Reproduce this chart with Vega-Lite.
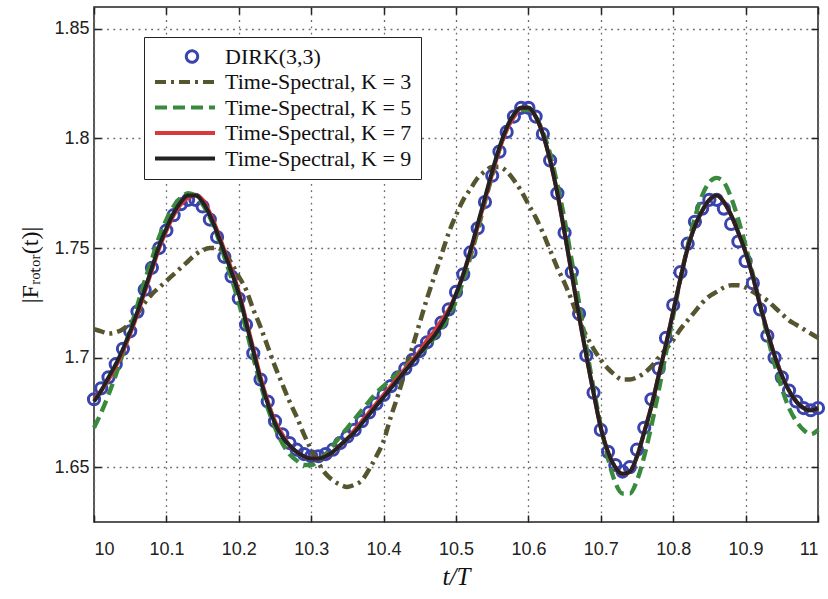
{
  "$schema": "https://vega.github.io/schema/vega-lite/v6.json",
  "width": 724,
  "height": 515,
  "autosize": "none",
  "padding": {"left": 94, "top": 7, "right": 10, "bottom": 77},
  "background": "white",
  "data": {"values": [
    {"t":10.00,"dirk":1.681,"k3":1.713,"k5":1.668,"k7":1.681,"k9":1.680},
    {"t":10.01,"dirk":1.686,"k3":1.712,"k5":1.675,"k7":1.685,"k9":1.685},
    {"t":10.02,"dirk":1.691,"k3":1.711,"k5":1.683,"k7":1.690,"k9":1.691},
    {"t":10.03,"dirk":1.697,"k3":1.7115,"k5":1.692,"k7":1.696,"k9":1.697},
    {"t":10.04,"dirk":1.704,"k3":1.713,"k5":1.702,"k7":1.703,"k9":1.704},
    {"t":10.05,"dirk":1.712,"k3":1.716,"k5":1.713,"k7":1.711,"k9":1.712},
    {"t":10.06,"dirk":1.721,"k3":1.720,"k5":1.724,"k7":1.720,"k9":1.721},
    {"t":10.07,"dirk":1.731,"k3":1.725,"k5":1.735,"k7":1.730,"k9":1.731},
    {"t":10.08,"dirk":1.741,"k3":1.729,"k5":1.745,"k7":1.740,"k9":1.741},
    {"t":10.09,"dirk":1.750,"k3":1.732,"k5":1.755,"k7":1.750,"k9":1.751},
    {"t":10.10,"dirk":1.758,"k3":1.735,"k5":1.763,"k7":1.758,"k9":1.759},
    {"t":10.11,"dirk":1.765,"k3":1.738,"k5":1.769,"k7":1.765,"k9":1.766},
    {"t":10.12,"dirk":1.770,"k3":1.741,"k5":1.773,"k7":1.770,"k9":1.771},
    {"t":10.13,"dirk":1.772,"k3":1.744,"k5":1.775,"k7":1.773,"k9":1.774},
    {"t":10.14,"dirk":1.772,"k3":1.747,"k5":1.774,"k7":1.774,"k9":1.774},
    {"t":10.15,"dirk":1.769,"k3":1.749,"k5":1.770,"k7":1.772,"k9":1.771},
    {"t":10.16,"dirk":1.763,"k3":1.750,"k5":1.764,"k7":1.766,"k9":1.765},
    {"t":10.17,"dirk":1.755,"k3":1.750,"k5":1.756,"k7":1.758,"k9":1.757},
    {"t":10.18,"dirk":1.746,"k3":1.748,"k5":1.746,"k7":1.749,"k9":1.748},
    {"t":10.19,"dirk":1.737,"k3":1.743,"k5":1.736,"k7":1.740,"k9":1.739},
    {"t":10.20,"dirk":1.727,"k3":1.737,"k5":1.725,"k7":1.730,"k9":1.729},
    {"t":10.21,"dirk":1.715,"k3":1.731,"k5":1.713,"k7":1.717,"k9":1.716},
    {"t":10.22,"dirk":1.702,"k3":1.722,"k5":1.700,"k7":1.704,"k9":1.703},
    {"t":10.23,"dirk":1.690,"k3":1.714,"k5":1.688,"k7":1.691,"k9":1.690},
    {"t":10.24,"dirk":1.680,"k3":1.705,"k5":1.677,"k7":1.680,"k9":1.679},
    {"t":10.25,"dirk":1.671,"k3":1.696,"k5":1.668,"k7":1.671,"k9":1.670},
    {"t":10.26,"dirk":1.665,"k3":1.688,"k5":1.661,"k7":1.665,"k9":1.664},
    {"t":10.27,"dirk":1.661,"k3":1.680,"k5":1.656,"k7":1.660,"k9":1.660},
    {"t":10.28,"dirk":1.658,"k3":1.673,"k5":1.653,"k7":1.657,"k9":1.657},
    {"t":10.29,"dirk":1.656,"k3":1.665,"k5":1.651,"k7":1.655,"k9":1.655},
    {"t":10.30,"dirk":1.655,"k3":1.658,"k5":1.651,"k7":1.654,"k9":1.654},
    {"t":10.31,"dirk":1.655,"k3":1.652,"k5":1.653,"k7":1.654,"k9":1.654},
    {"t":10.32,"dirk":1.656,"k3":1.647,"k5":1.656,"k7":1.655,"k9":1.655},
    {"t":10.33,"dirk":1.658,"k3":1.644,"k5":1.660,"k7":1.657,"k9":1.657},
    {"t":10.34,"dirk":1.661,"k3":1.642,"k5":1.664,"k7":1.660,"k9":1.660},
    {"t":10.35,"dirk":1.664,"k3":1.641,"k5":1.668,"k7":1.663,"k9":1.663},
    {"t":10.36,"dirk":1.667,"k3":1.642,"k5":1.672,"k7":1.667,"k9":1.666},
    {"t":10.37,"dirk":1.671,"k3":1.644,"k5":1.676,"k7":1.671,"k9":1.670},
    {"t":10.38,"dirk":1.675,"k3":1.649,"k5":1.680,"k7":1.675,"k9":1.674},
    {"t":10.39,"dirk":1.679,"k3":1.655,"k5":1.684,"k7":1.679,"k9":1.678},
    {"t":10.40,"dirk":1.683,"k3":1.662,"k5":1.687,"k7":1.683,"k9":1.682},
    {"t":10.41,"dirk":1.687,"k3":1.673,"k5":1.690,"k7":1.687,"k9":1.686},
    {"t":10.42,"dirk":1.691,"k3":1.683,"k5":1.693,"k7":1.691,"k9":1.690},
    {"t":10.43,"dirk":1.695,"k3":1.694,"k5":1.696,"k7":1.695,"k9":1.694},
    {"t":10.44,"dirk":1.699,"k3":1.705,"k5":1.699,"k7":1.699,"k9":1.698},
    {"t":10.45,"dirk":1.703,"k3":1.716,"k5":1.702,"k7":1.703,"k9":1.702},
    {"t":10.46,"dirk":1.707,"k3":1.727,"k5":1.705,"k7":1.708,"k9":1.706},
    {"t":10.47,"dirk":1.711,"k3":1.737,"k5":1.709,"k7":1.712,"k9":1.710},
    {"t":10.48,"dirk":1.716,"k3":1.747,"k5":1.713,"k7":1.717,"k9":1.715},
    {"t":10.49,"dirk":1.722,"k3":1.757,"k5":1.719,"k7":1.722,"k9":1.721},
    {"t":10.50,"dirk":1.730,"k3":1.765,"k5":1.726,"k7":1.729,"k9":1.729},
    {"t":10.51,"dirk":1.738,"k3":1.772,"k5":1.735,"k7":1.738,"k9":1.738},
    {"t":10.52,"dirk":1.748,"k3":1.777,"k5":1.746,"k7":1.748,"k9":1.749},
    {"t":10.53,"dirk":1.759,"k3":1.782,"k5":1.758,"k7":1.760,"k9":1.761},
    {"t":10.54,"dirk":1.771,"k3":1.785,"k5":1.771,"k7":1.772,"k9":1.773},
    {"t":10.55,"dirk":1.783,"k3":1.787,"k5":1.783,"k7":1.784,"k9":1.785},
    {"t":10.56,"dirk":1.794,"k3":1.787,"k5":1.795,"k7":1.795,"k9":1.796},
    {"t":10.57,"dirk":1.803,"k3":1.785,"k5":1.804,"k7":1.804,"k9":1.805},
    {"t":10.58,"dirk":1.810,"k3":1.781,"k5":1.810,"k7":1.810,"k9":1.811},
    {"t":10.59,"dirk":1.814,"k3":1.776,"k5":1.813,"k7":1.814,"k9":1.814},
    {"t":10.60,"dirk":1.814,"k3":1.770,"k5":1.813,"k7":1.814,"k9":1.814},
    {"t":10.61,"dirk":1.810,"k3":1.764,"k5":1.810,"k7":1.810,"k9":1.810},
    {"t":10.62,"dirk":1.802,"k3":1.757,"k5":1.803,"k7":1.802,"k9":1.802},
    {"t":10.63,"dirk":1.790,"k3":1.749,"k5":1.793,"k7":1.790,"k9":1.790},
    {"t":10.64,"dirk":1.775,"k3":1.741,"k5":1.779,"k7":1.775,"k9":1.775},
    {"t":10.65,"dirk":1.757,"k3":1.734,"k5":1.763,"k7":1.757,"k9":1.757},
    {"t":10.66,"dirk":1.739,"k3":1.726,"k5":1.744,"k7":1.738,"k9":1.738},
    {"t":10.67,"dirk":1.720,"k3":1.717,"k5":1.725,"k7":1.719,"k9":1.719},
    {"t":10.68,"dirk":1.701,"k3":1.710,"k5":1.705,"k7":1.701,"k9":1.701},
    {"t":10.69,"dirk":1.684,"k3":1.704,"k5":1.686,"k7":1.684,"k9":1.684},
    {"t":10.70,"dirk":1.667,"k3":1.699,"k5":1.669,"k7":1.668,"k9":1.668},
    {"t":10.71,"dirk":1.657,"k3":1.695,"k5":1.654,"k7":1.657,"k9":1.657},
    {"t":10.72,"dirk":1.651,"k3":1.692,"k5":1.643,"k7":1.650,"k9":1.650},
    {"t":10.73,"dirk":1.648,"k3":1.690,"k5":1.638,"k7":1.647,"k9":1.647},
    {"t":10.74,"dirk":1.650,"k3":1.690,"k5":1.638,"k7":1.648,"k9":1.648},
    {"t":10.75,"dirk":1.658,"k3":1.691,"k5":1.644,"k7":1.655,"k9":1.655},
    {"t":10.76,"dirk":1.668,"k3":1.693,"k5":1.655,"k7":1.666,"k9":1.666},
    {"t":10.77,"dirk":1.681,"k3":1.696,"k5":1.669,"k7":1.678,"k9":1.678},
    {"t":10.78,"dirk":1.695,"k3":1.700,"k5":1.685,"k7":1.692,"k9":1.692},
    {"t":10.79,"dirk":1.709,"k3":1.704,"k5":1.702,"k7":1.706,"k9":1.706},
    {"t":10.80,"dirk":1.724,"k3":1.708,"k5":1.719,"k7":1.721,"k9":1.721},
    {"t":10.81,"dirk":1.739,"k3":1.713,"k5":1.736,"k7":1.736,"k9":1.736},
    {"t":10.82,"dirk":1.752,"k3":1.717,"k5":1.751,"k7":1.750,"k9":1.750},
    {"t":10.83,"dirk":1.762,"k3":1.721,"k5":1.764,"k7":1.760,"k9":1.760},
    {"t":10.84,"dirk":1.768,"k3":1.725,"k5":1.774,"k7":1.767,"k9":1.767},
    {"t":10.85,"dirk":1.772,"k3":1.728,"k5":1.780,"k7":1.772,"k9":1.772},
    {"t":10.86,"dirk":1.772,"k3":1.730,"k5":1.782,"k7":1.774,"k9":1.774},
    {"t":10.87,"dirk":1.768,"k3":1.732,"k5":1.780,"k7":1.771,"k9":1.771},
    {"t":10.88,"dirk":1.761,"k3":1.733,"k5":1.773,"k7":1.765,"k9":1.765},
    {"t":10.89,"dirk":1.753,"k3":1.733,"k5":1.763,"k7":1.757,"k9":1.757},
    {"t":10.90,"dirk":1.744,"k3":1.732,"k5":1.751,"k7":1.748,"k9":1.748},
    {"t":10.91,"dirk":1.734,"k3":1.730,"k5":1.738,"k7":1.737,"k9":1.737},
    {"t":10.92,"dirk":1.722,"k3":1.728,"k5":1.724,"k7":1.724,"k9":1.724},
    {"t":10.93,"dirk":1.710,"k3":1.726,"k5":1.710,"k7":1.712,"k9":1.712},
    {"t":10.94,"dirk":1.700,"k3":1.723,"k5":1.697,"k7":1.701,"k9":1.701},
    {"t":10.95,"dirk":1.691,"k3":1.720,"k5":1.686,"k7":1.692,"k9":1.692},
    {"t":10.96,"dirk":1.685,"k3":1.717,"k5":1.677,"k7":1.685,"k9":1.685},
    {"t":10.97,"dirk":1.680,"k3":1.715,"k5":1.671,"k7":1.680,"k9":1.680},
    {"t":10.98,"dirk":1.677,"k3":1.713,"k5":1.667,"k7":1.677,"k9":1.677},
    {"t":10.99,"dirk":1.676,"k3":1.711,"k5":1.665,"k7":1.676,"k9":1.676},
    {"t":11.00,"dirk":1.677,"k3":1.709,"k5":1.667,"k7":1.677,"k9":1.677}
  ]},
  "transform": [{"fold": ["dirk", "k3", "k5", "k7", "k9"], "as": ["series", "value"]}],
  "layer": [
    {
      "transform": [{"filter": "datum.series === 'dirk'"}],
      "mark": {"type": "point", "filled": false, "size": 125, "strokeWidth": 3, "opacity": 1},
      "encoding": {
        "x": {"field": "t", "type": "quantitative", "scale": {"domain": [10, 11], "nice": false, "zero": false},
              "axis": {"orient": "top", "labels": false, "grid": false, "title": null, "values": [10,10.1,10.2,10.3,10.4,10.5,10.6,10.7,10.8,10.9,11]}},
        "y": {"field": "value", "type": "quantitative", "scale": {"domain": [1.625, 1.86], "nice": false, "zero": false},
              "axis": {"orient": "right", "labels": false, "grid": false, "title": null, "values": [1.65,1.7,1.75,1.8,1.85]}},
        "color": {"field": "series", "type": "nominal"}
      }
    },
    {
      "transform": [{"filter": "datum.series !== 'dirk'"}],
      "mark": {"type": "line", "interpolate": "monotone"},
      "encoding": {
        "x": {"field": "t", "type": "quantitative",
              "axis": {"orient": "bottom", "grid": true, "title": "t/T", "values": [10,10.1,10.2,10.3,10.4,10.5,10.6,10.7,10.8,10.9,11], "format": ".1~f",
                       "titleFont": "Liberation Serif", "titleFontStyle": "italic", "titleFontSize": 25, "titleFontWeight": "normal", "titlePadding": 6, "labelPadding": 25}},
        "y": {"field": "value", "type": "quantitative",
              "axis": {"orient": "left", "grid": true, "title": "|Fᵣₒₜₒᵣ(t)|", "values": [1.65,1.7,1.75,1.8,1.85], "format": ".2~f",
                       "titleFont": "Liberation Serif", "titleFontSize": 24, "titleFontWeight": "normal", "titlePadding": 11, "labelPadding": 12}},
        "color": {"field": "series", "type": "nominal",
          "scale": {"domain": ["dirk", "k3", "k5", "k7", "k9"], "range": ["#3a44ae", "#55552f", "#3a8a3e", "#d8393a", "#222222"]},
          "legend": {
            "orient": "none", "legendX": 50, "legendY": 30, "title": null, "columns": 1,
            "labelExpr": "{'dirk': 'DIRK(3,3)', 'k3': 'Time-Spectral, K = 3', 'k5': 'Time-Spectral, K = 5', 'k7': 'Time-Spectral, K = 7', 'k9': 'Time-Spectral, K = 9'}[datum.value]",
            "labelFont": "Liberation Serif", "labelFontSize": 22, "labelColor": "#111", "labelOffset": 8, "labelLimit": 400,
            "symbolSize": 3600, "symbolStrokeWidth": 4, "symbolType": "stroke",
            "clipHeight": 21, "rowPadding": 2.5, "padding": 9,
            "strokeColor": "#222", "fillColor": "white",
            "encode": {"symbols": {"update": {
              "shape": {"signal": "(datum.value === 'dirk' ? 'circle' : 'stroke')"},
              "strokeWidth": {"signal": "(datum.value === 'dirk' ? 3 : 4)"},
              "size": {"signal": "(datum.value === 'dirk' ? 130 : 3600)"},
              "x": {"signal": "(datum.value === 'dirk' ? 39 : 32)"},
              "fill": {"value": "transparent"}
            }}}
          }},
        "strokeDash": {"field": "series", "type": "nominal",
          "scale": {"domain": ["dirk", "k3", "k5", "k7", "k9"], "range": [[1, 0], [11, 5, 3, 5], [12, 6], [1, 0], [1, 0]]}},
        "strokeWidth": {"field": "series", "type": "nominal", "legend": null,
          "scale": {"domain": ["k3", "k5", "k7", "k9"], "range": [4.5, 4, 2, 3.5]}}
      }
    }
  ],
  "resolve": {"axis": {"x": "independent", "y": "independent"}},
  "config": {
    "view": {"stroke": "#222", "strokeWidth": 1.5},
    "axis": {
      "domain": false,
      "labelFont": "Liberation Sans", "labelFontSize": 18, "labelColor": "#222",
      "ticks": true, "tickColor": "#222", "tickSize": -7, "tickWidth": 1.5,
      "gridColor": "#6a6a6a", "gridDash": [1.8, 4.5], "gridWidth": 1.3, "gridOpacity": 1,
      "titleColor": "#111"
    }
  }
}
